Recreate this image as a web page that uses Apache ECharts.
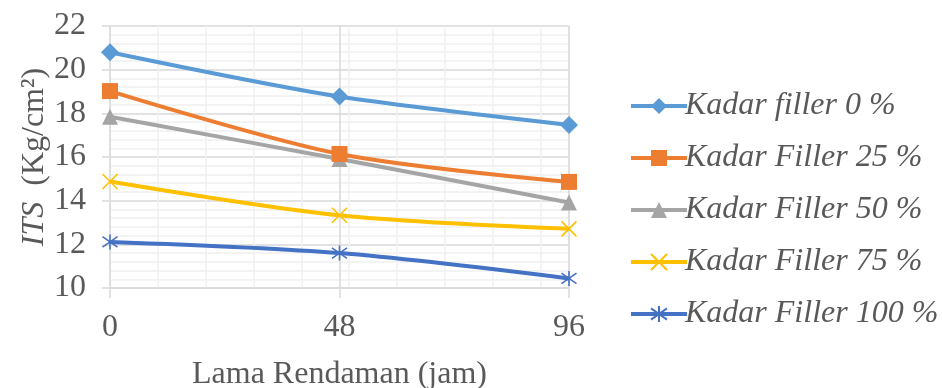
<!DOCTYPE html>
<html>
<head>
<meta charset="utf-8">
<script src="https://cdn.jsdelivr.net/npm/echarts@6/dist/echarts.min.js"></script>
<style>
  html, body { margin: 0; padding: 0; background: #ffffff; }
  #chart { width: 942px; height: 388px; }
</style>
</head>
<body>
<div id="chart"></div>
<script>
// lama rendaman (jam)
var hours = [0, 48, 96]
var seriesNames = ['Kadar filler 0 %', 'Kadar Filler 25 %', 'Kadar Filler 50 %', 'Kadar Filler 75 %', 'Kadar Filler 100 %']
var filler0 = [20.8, 18.77, 17.47]
var filler25 = [19.02, 16.14, 14.86]
var filler50 = [17.84, 15.91, 13.92]
var filler75 = [14.88, 13.33, 12.71]
var filler100 = [12.11, 11.6, 10.44]
var yTicks = [10, 12, 14, 16, 18, 20, 22]

var colors = ['#5B9BD5', '#ED7D31', '#A5A5A5', '#FFC000', '#4472C4']
var symbols = [
  'diamond',
  'rect',
  'triangle',
  'path://M0,0L10,10M10,0L0,10',
  'path://M5,0L5,10M1,1.5L9,8.5M9,1.5L1,8.5'
]
var symbolSizes = [18, 16, 16, 15, 15]
var allData = [filler0, filler25, filler50, filler75, filler100]

var font = 'Liberation Serif'
var chart = echarts.init(document.getElementById('chart'))

var series = allData.map(function (vals, i) {
  var stroked = i >= 3
  return {
    name: seriesNames[i],
    type: 'line',
    smooth: 0.3,
    data: vals.map(function (v, k) { return [hours[k], v] }),
    symbol: symbols[i],
    symbolSize: symbolSizes[i],
    lineStyle: { width: 4, color: colors[i] },
    itemStyle: stroked
      ? { color: colors[i], borderColor: colors[i], borderWidth: 1.6 }
      : { color: colors[i] },
    z: 10 - i
  }
})

var option = {
  animation: false,
  grid: { left: 110, right: 373, top: 26, bottom: 100, outerBoundsMode: 'none' },
  legend: {
    orient: 'vertical',
    left: 624,
    top: 85,
    itemGap: 20,
    itemWidth: 56,
    itemHeight: 20,
    lineStyle: { width: 4 },
    textStyle: { fontFamily: font, fontStyle: 'italic', fontSize: 32, color: '#595959', padding: [0, 0, 0, -7] },
    data: seriesNames
  },
  xAxis: [
    {
      type: 'value',
      min: 0,
      max: 96,
      interval: 48,
      name: 'Lama Rendaman (jam)',
      nameLocation: 'middle',
      nameGap: 71,
      nameTextStyle: { fontFamily: font, fontSize: 32, color: '#595959' },
      axisLine: { show: true, lineStyle: { color: '#D9D9D9', width: 1.5 } },
      axisTick: { show: true, length: 10, lineStyle: { color: '#D9D9D9', width: 1.5 } },
      axisLabel: { fontFamily: font, fontSize: 32, color: '#595959', margin: 24 },
      splitLine: { show: true, lineStyle: { color: '#D9D9D9', width: 1.5 } },
      z: 3
    },
    {
      type: 'value',
      min: 0,
      max: 96,
      interval: 10,
      position: 'top',
      axisLine: { show: false },
      axisTick: { show: false },
      axisLabel: { show: false },
      splitLine: { show: true, lineStyle: { color: '#F0F0F0', width: 1.5 } },
      z: 1
    }
  ],
  yAxis: {
    type: 'value',
    min: yTicks[0],
    max: yTicks[yTicks.length - 1],
    interval: 2,
    name: '{i|ITS}  (Kg/cm²)',
    nameLocation: 'middle',
    nameGap: 59,
    nameTextStyle: {
      fontFamily: font,
      fontSize: 32,
      color: '#595959',
      rich: {
        i: { fontFamily: font, fontSize: 32, fontStyle: 'italic', color: '#595959' }
      }
    },
    axisLine: { show: false },
    axisTick: { show: true, length: 8, lineStyle: { color: '#D9D9D9', width: 1.5 } },
    axisLabel: { fontFamily: font, fontSize: 32, color: '#595959', margin: 24 },
    splitLine: { show: true, lineStyle: { color: '#D9D9D9', width: 1.5 } },
    minorTick: { show: false, splitNumber: 5 },
    minorSplitLine: { show: true, lineStyle: { color: '#F0F0F0', width: 1.5 } }
  },
  series: series
}

chart.setOption(option)
</script>
</body>
</html>
